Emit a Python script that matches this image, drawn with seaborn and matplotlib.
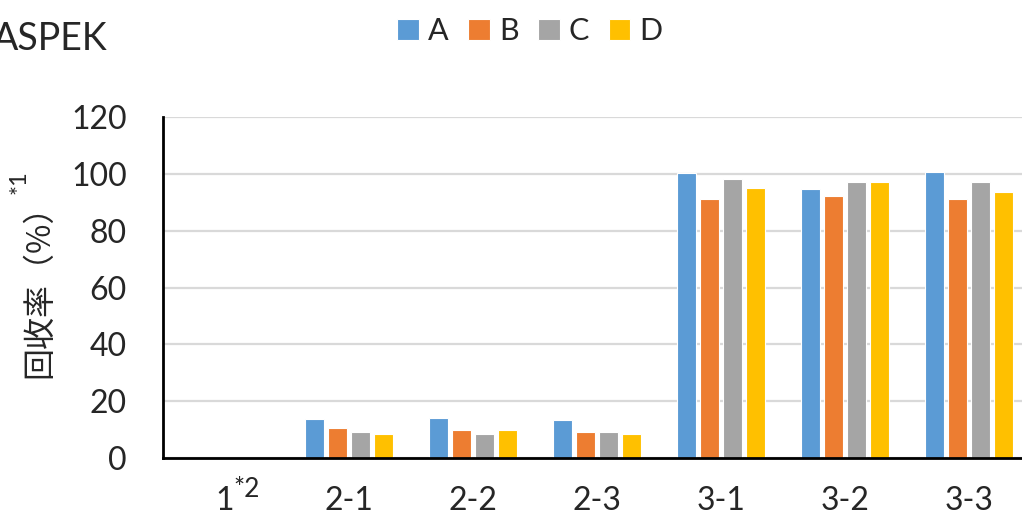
import numpy as np
import pandas as pd
import matplotlib
matplotlib.use("Agg")
import matplotlib.pyplot as plt
import seaborn as sns

# Sample groups and recovery (%) per analyst series
groups = ["1", "2-1", "2-2", "2-3", "3-1", "3-2", "3-3"]
tick_labels = ["1", "2-1", "2-2", "2-3", "3-1", "3-2", "3-3"]
first_group_note = "*2"
series = ["A", "B", "C", "D"]
vals_a = [np.nan, 13.7, 14.0, 13.4, 100.3, 94.5, 100.5]
vals_b = [np.nan, 10.4, 9.9, 9.2, 91.0, 92.2, 91.2]
vals_c = [np.nan, 9.3, 8.6, 9.2, 98.2, 97.1, 97.2]
vals_d = [np.nan, 8.5, 9.7, 8.5, 94.9, 97.0, 93.6]
colors = ["#5B9BD5", "#ED7D31", "#A5A5A5", "#FFC000"]
y_label = "回收率（%）"
y_label_note = "*1"

sns.set_theme(style="white")
plt.rcParams["font.family"] = ["Lato", "Noto Sans CJK JP", "DejaVu Sans"]

rows = []
for s, vals in zip(series, [vals_a, vals_b, vals_c, vals_d]):
    for g, v in zip(groups, vals):
        rows.append({"group": g, "series": s, "value": v})
df = pd.DataFrame(rows)

fig = plt.figure(figsize=(10.22, 5.2), dpi=100)
ax = fig.add_axes([163 / 1022, 1 - 458 / 520, 868 / 1022, 341 / 520])

sns.barplot(data=df, x="group", y="value", hue="series", order=groups,
            hue_order=series, palette=colors, saturation=1, width=0.74,
            gap=0.2, edgecolor="white", linewidth=0.8, errorbar=None,
            ax=ax, zorder=3)

ax.set_xlim(-0.5, 6.5)
ax.set_ylim(0, 120)
ax.set_yticks(range(0, 121, 20))
ax.yaxis.grid(True, color="#D9D9D9", linewidth=1.6, zorder=0)
ax.set_axisbelow(True)
ax.set_xticks(range(len(groups)))
ax.set_xticklabels(tick_labels)
ax.tick_params(axis="x", labelsize=23, pad=20, length=0)
ax.tick_params(axis="y", labelsize=23, pad=26, length=0)
ax.set_xlabel("")
ax.set_ylabel("")

# footnote marker on the first category label
ax.annotate(first_group_note, xy=(0, 0), xycoords=("data", "axes fraction"),
            xytext=(8, -19), textcoords="offset pixels", fontsize=19,
            ha="left", va="top")

for side in ["top", "right"]:
    ax.spines[side].set_visible(False)
for side in ["left", "bottom"]:
    ax.spines[side].set_color("black")
    ax.spines[side].set_linewidth(2)
    ax.spines[side].set_zorder(5)

# Rotated axis title with its footnote marker
fig.text(39 / 1022, 1 - 283 / 520, y_label, rotation=90, fontsize=23,
         family=["Noto Sans CJK JP", "DejaVu Sans"], ha="center",
         va="center")
fig.text(19 / 1022, 1 - 182 / 520, y_label_note, rotation=90, fontsize=17,
         ha="center", va="center")

ax.legend(loc="center", bbox_to_anchor=(530 / 1022, 1 - 31 / 520),
          bbox_transform=fig.transFigure, ncol=4, frameon=False,
          fontsize=22, handlelength=0.7, handleheight=0.7,
          handletextpad=0.3, columnspacing=0.65, borderpad=0)

fig.text(108 / 1022, 1 - 50 / 520, "ASPEK", fontsize=27, ha="right",
         va="baseline")

fig.savefig("out.png", dpi=100)
